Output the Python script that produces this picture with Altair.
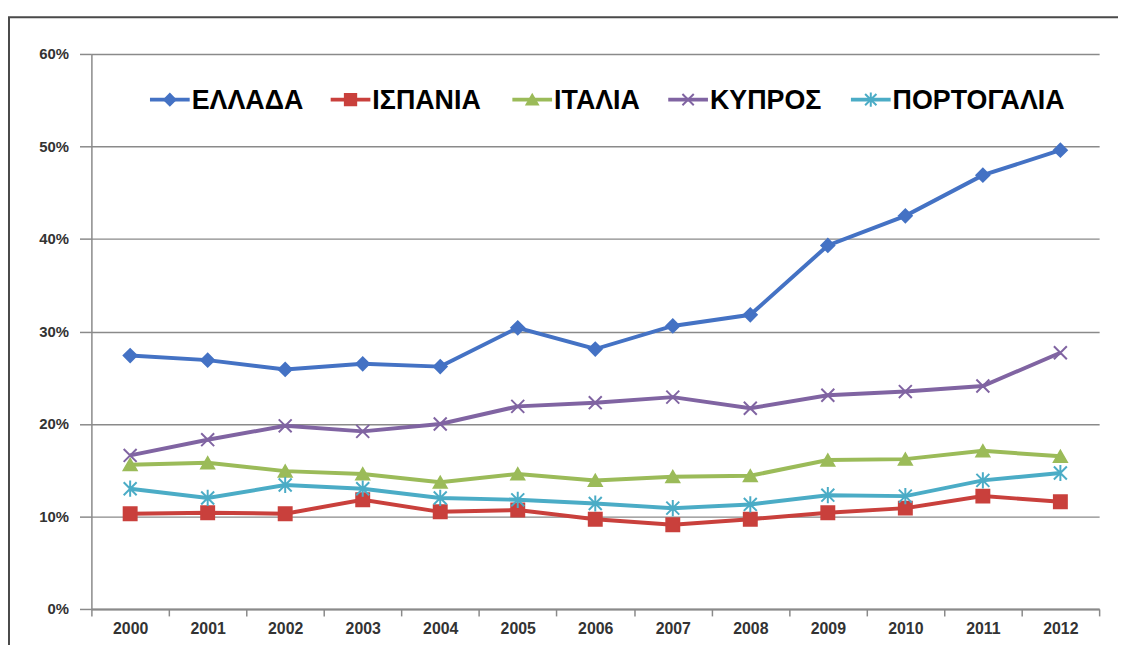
import altair as alt
import pandas as pd

# ---- data (percent) ----
years = ["2000", "2001", "2002", "2003", "2004", "2005", "2006",
         "2007", "2008", "2009", "2010", "2011", "2012"]
series_names = ["ΕΛΛΑΔΑ", "ΙΣΠΑΝΙΑ", "ΙΤΑΛΙΑ", "ΚΥΠΡΟΣ", "ΠΟΡΤΟΓΑΛΙΑ"]
greece = [27.4, 26.9, 25.9, 26.5, 26.2, 30.4, 28.1, 30.6, 31.8, 39.3, 42.5, 46.9, 49.6]
spain = [10.3, 10.4, 10.3, 11.8, 10.5, 10.7, 9.7, 9.1, 9.7, 10.4, 10.9, 12.2, 11.6]
italy = [15.6, 15.8, 14.9, 14.6, 13.7, 14.6, 13.9, 14.3, 14.4, 16.1, 16.2, 17.1, 16.5]
cyprus = [16.6, 18.3, 19.8, 19.2, 20.0, 21.9, 22.3, 22.9, 21.7, 23.1, 23.5, 24.1, 27.7]
portugal = [13.0, 12.0, 13.4, 13.0, 12.0, 11.8, 11.4, 10.9, 11.3, 12.3, 12.2, 13.9, 14.7]
y_ticks = [0, 10, 20, 30, 40, 50, 60]

# ---- styles / layout ----
colors = ["#4472C4", "#C9403C", "#9BBB59", "#8064A2", "#4BACC6"]
X_PATH = "M-1,-1L1,1M-1,1L1,-1"
AST_PATH = "M-1,-1L1,1M-1,1L1,-1M0,-1.25L0,1.25"
marker_shapes = ["diamond", "square", "triangle-up", X_PATH, AST_PATH]
AXIS_FONT = "Liberation Sans, Arial, sans-serif"
LEGEND_FONT = "Liberation Sans Narrow, Arial Narrow, Liberation Sans, sans-serif"
GRID = "#8a8a8a"

W, H = 1015, 559
# legend layout (pixels inside the plot area): marker centres of each entry
LEGEND_CX = [79, 261, 444, 601, 785]
LEGEND_Y = 46
LEGEND_HALF = 20
LEGEND_GAP = 22

all_series = [greece, spain, italy, cyprus, portugal]
rows = []
for name, vals in zip(series_names, all_series):
    for yr, v in zip(years, vals):
        rows.append({"series": name, "year": yr, "value": v})
df = pd.DataFrame(rows)

legend_df = pd.DataFrame({
    "series": series_names,
    "cx": LEGEND_CX,
    "lx1": [c - LEGEND_HALF for c in LEGEND_CX],
    "lx2": [c + LEGEND_HALF for c in LEGEND_CX],
    "tx": [c + LEGEND_GAP for c in LEGEND_CX],
})

color_scale = alt.Scale(domain=series_names, range=colors)
shape_scale = alt.Scale(domain=series_names, range=marker_shapes)

x_enc = alt.X(
    "year:O",
    scale=alt.Scale(type="band", domain=years, paddingInner=0, paddingOuter=0),
    bandPosition=0.5,
    axis=alt.Axis(
        title=None, tickBand="extent", labelAngle=0, grid=False,
        domainColor=GRID, domainWidth=2, tickColor=GRID, tickWidth=1.5,
        tickSize=7, labelFont=AXIS_FONT, labelFontSize=16,
        labelFontWeight="bold", labelColor="#333333", labelPadding=5,
    ),
)
y_enc = alt.Y(
    "value:Q",
    scale=alt.Scale(domain=[0, 60], nice=False),
    axis=alt.Axis(
        title=None, values=y_ticks, labelExpr="datum.value + '%'",
        grid=True, gridColor=GRID, gridWidth=1.5,
        domainColor=GRID, domainWidth=1.5, tickColor=GRID, tickWidth=1.5,
        tickSize=12, labelFont=AXIS_FONT, labelFontSize=15,
        labelFontWeight="bold", labelColor="#333333", labelPadding=11,
    ),
)

base = alt.Chart(df)

lines = base.mark_line(strokeWidth=4).encode(
    x=x_enc, y=y_enc,
    color=alt.Color("series:N", scale=color_scale, legend=None),
)

markers = base.mark_point(filled=True, strokeWidth=2, size=170, opacity=1).encode(
    x=x_enc, y=y_enc,
    shape=alt.Shape("series:N", scale=shape_scale, legend=None),
    fill=alt.Fill("series:N", scale=color_scale, legend=None),
    stroke=alt.Stroke("series:N", scale=color_scale, legend=None),
)

leg = alt.Chart(legend_df)
leg_lines = leg.mark_rule(strokeWidth=4).encode(
    x=alt.X("lx1:Q", scale=None), x2="lx2:Q", y=alt.value(LEGEND_Y),
    color=alt.Color("series:N", scale=color_scale, legend=None),
)
leg_marks = leg.mark_point(filled=True, strokeWidth=2, size=130, opacity=1).encode(
    x=alt.X("cx:Q", scale=None), y=alt.value(LEGEND_Y),
    shape=alt.Shape("series:N", scale=shape_scale, legend=None),
    fill=alt.Fill("series:N", scale=color_scale, legend=None),
    stroke=alt.Stroke("series:N", scale=color_scale, legend=None),
)
leg_text = leg.mark_text(
    align="left", baseline="middle", font=LEGEND_FONT, fontSize=27,
    fontWeight="bold", color="#000000", dy=1,
).encode(
    x=alt.X("tx:Q", scale=None), y=alt.value(LEGEND_Y), text="series:N",
)

frame = alt.Chart(pd.DataFrame({"k": [0]})).mark_rect(
    fill="transparent", stroke="#4a4a4a", strokeWidth=2
).encode(
    x=alt.value(-83), x2=alt.value(1100), y=alt.value(-37), y2=alt.value(700)
)

chart = alt.layer(frame, lines, markers, leg_lines, leg_marks, leg_text).properties(
    width=W, height=H,
    padding={"left": 84, "top": 44, "right": 19, "bottom": 34},
    autosize=alt.AutoSizeParams(type="none"),
    background="white",
).configure_view(strokeWidth=0)

chart.save("out.html", embed_options={"renderer": "svg", "actions": False})
